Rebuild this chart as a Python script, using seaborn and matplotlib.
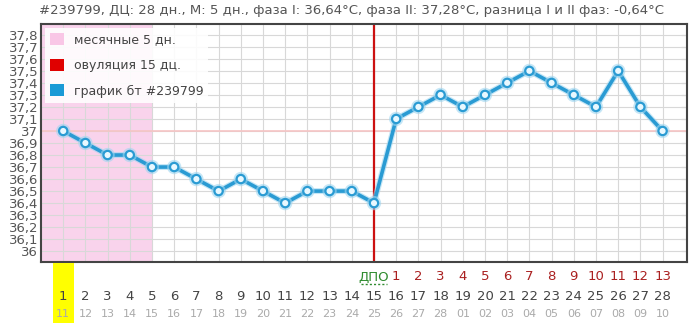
import numpy as np
import pandas as pd
import matplotlib
matplotlib.use("Agg")
import matplotlib.pyplot as plt
import matplotlib.patheffects as pe
from matplotlib.patches import Patch, Rectangle
import matplotlib.transforms as mtransforms
import seaborn as sns

# -----------------------
# Data
# -----------------------
days = list(range(1, 29))
temps = [37.0, 36.9, 36.8, 36.8, 36.7, 36.7, 36.6, 36.5, 36.6, 36.5,
         36.4, 36.5, 36.5, 36.5, 36.4, 37.1, 37.2, 37.3, 37.2, 37.3,
         37.4, 37.5, 37.4, 37.3, 37.2, 37.5, 37.2, 37.0]
dates = ["11", "12", "13", "14", "15", "16", "17", "18", "19", "20",
         "21", "22", "23", "24", "25", "26", "27", "28", "01", "02",
         "03", "04", "05", "06", "07", "08", "09", "10"]
dpo_labels = [str(i) for i in range(1, 14)]
y_ticks = [36.0, 36.1, 36.2, 36.3, 36.4, 36.5, 36.6, 36.7, 36.8, 36.9,
           37.0, 37.1, 37.2, 37.3, 37.4, 37.5, 37.6, 37.7, 37.8]
y_labels = ["36", "36,1", "36,2", "36,3", "36,4", "36,5", "36,6", "36,7",
            "36,8", "36,9", "37", "37,1", "37,2", "37,3", "37,4", "37,5",
            "37,6", "37,7", "37,8"]
mens_days = 5
ovulation_day = 15
coverline = 37.0
title = ("#239799, ДЦ: 28 дн., М: 5 дн., фаза I: 36,64°C, фаза II: 37,28°C, "
         "разница I и II фаз: -0,64°C")

df = pd.DataFrame({"day": days, "temp": temps})

# -----------------------
# Figure
# -----------------------
sns.set_style("white")
plt.rcParams["font.family"] = ["DejaVu Sans"]

fig = plt.figure(figsize=(6.9, 3.23), dpi=100)
ax = fig.add_axes([41 / 690, 61 / 323, 646 / 690, 238 / 323])

ax.set_xlim(0, 29.1)
ax.set_ylim(35.91, 37.89)

# menstruation band
ax.axvspan(0, mens_days, color="#f9d3ec", zorder=0, lw=0)

# grid
for d in days:
    ax.axvline(d, color="#d8d8d8", lw=0.8, zorder=1)
for t in y_ticks:
    ax.axhline(t, color="#d8d8d8", lw=0.8, zorder=1)
ax.axhline(coverline, color="#f6c4c4", lw=1.2, zorder=1)

# ovulation
ax.axvline(ovulation_day, color="#cc1111", lw=1.6, zorder=2)

# temperature line
sns.lineplot(data=df, x="day", y="temp", ax=ax, color="#2a9bd3", lw=2.6,
             marker="o", markersize=6, markerfacecolor="#e8f8ff",
             markeredgecolor="#2a9bd3", markeredgewidth=1.6, zorder=4,
             path_effects=[pe.Stroke(linewidth=4.3, foreground="#9fd6f0", alpha=0.6),
                           pe.Normal()])

ax.set_xlabel("")
ax.set_ylabel("")
ax.set_xticks([])
ax.set_yticks(y_ticks)
ax.set_yticklabels(y_labels, fontsize=9.5, color="#555555")
ax.tick_params(axis="y", left=False, right=True, labelright=False, length=4,
               direction="in", color="#999999", pad=2)

for s in ax.spines.values():
    s.set_color("#444444")
    s.set_linewidth(1.5)

# legend
handles = [Patch(facecolor="#f9c6e6", edgecolor="none", label="месячные 5 дн."),
           Patch(facecolor="#e00000", edgecolor="none", label="овуляция 15 дц."),
           Patch(facecolor="#1a9ad6", edgecolor="none", label="график бт #239799")]
leg = ax.legend(handles=handles, loc="upper left", fontsize=9, frameon=True,
                labelspacing=1.0, handlelength=1.1, handleheight=1.1,
                borderaxespad=0.3, fancybox=False, labelcolor="#444444")
leg.get_frame().set_facecolor("white")
leg.get_frame().set_alpha(0.88)
leg.get_frame().set_edgecolor("none")

# title
fig.text(0.51, 0.968, title, ha="center", va="center", fontsize=9.5, color="#555555")

# bottom labels
trans = mtransforms.blended_transform_factory(ax.transData, fig.transFigure)
fig.patches.append(Rectangle((days[0] - 0.48, 0), 0.96, 60 / 323, transform=trans,
                             facecolor="#ffff00", edgecolor="none", zorder=0))
fig.text(ovulation_day, 1 - 277 / 323, "ДПО", transform=trans, ha="center",
         va="center", fontsize=9.5, color="#2e8b2e")
fig.lines.append(plt.Line2D([ovulation_day - 0.6, ovulation_day + 0.6],
                            [1 - 284 / 323, 1 - 284 / 323], transform=trans,
                            color="#2e8b2e", lw=1, ls=(0, (1.5, 1.5))))
for i, lab in enumerate(dpo_labels):
    fig.text(ovulation_day + 1 + i, 1 - 277 / 323, lab, transform=trans,
             ha="center", va="center", fontsize=9.5, color="#aa2020")
for d in days:
    fig.text(d, 1 - 297 / 323, str(d), transform=trans, ha="center", va="center",
             fontsize=9.5, color="#444444")
for d, lab in zip(days, dates):
    fig.text(d, 1 - 314 / 323, lab, transform=trans, ha="center", va="center",
             fontsize=8, color="#aaaaaa")

fig.savefig("out.png", dpi=100)
